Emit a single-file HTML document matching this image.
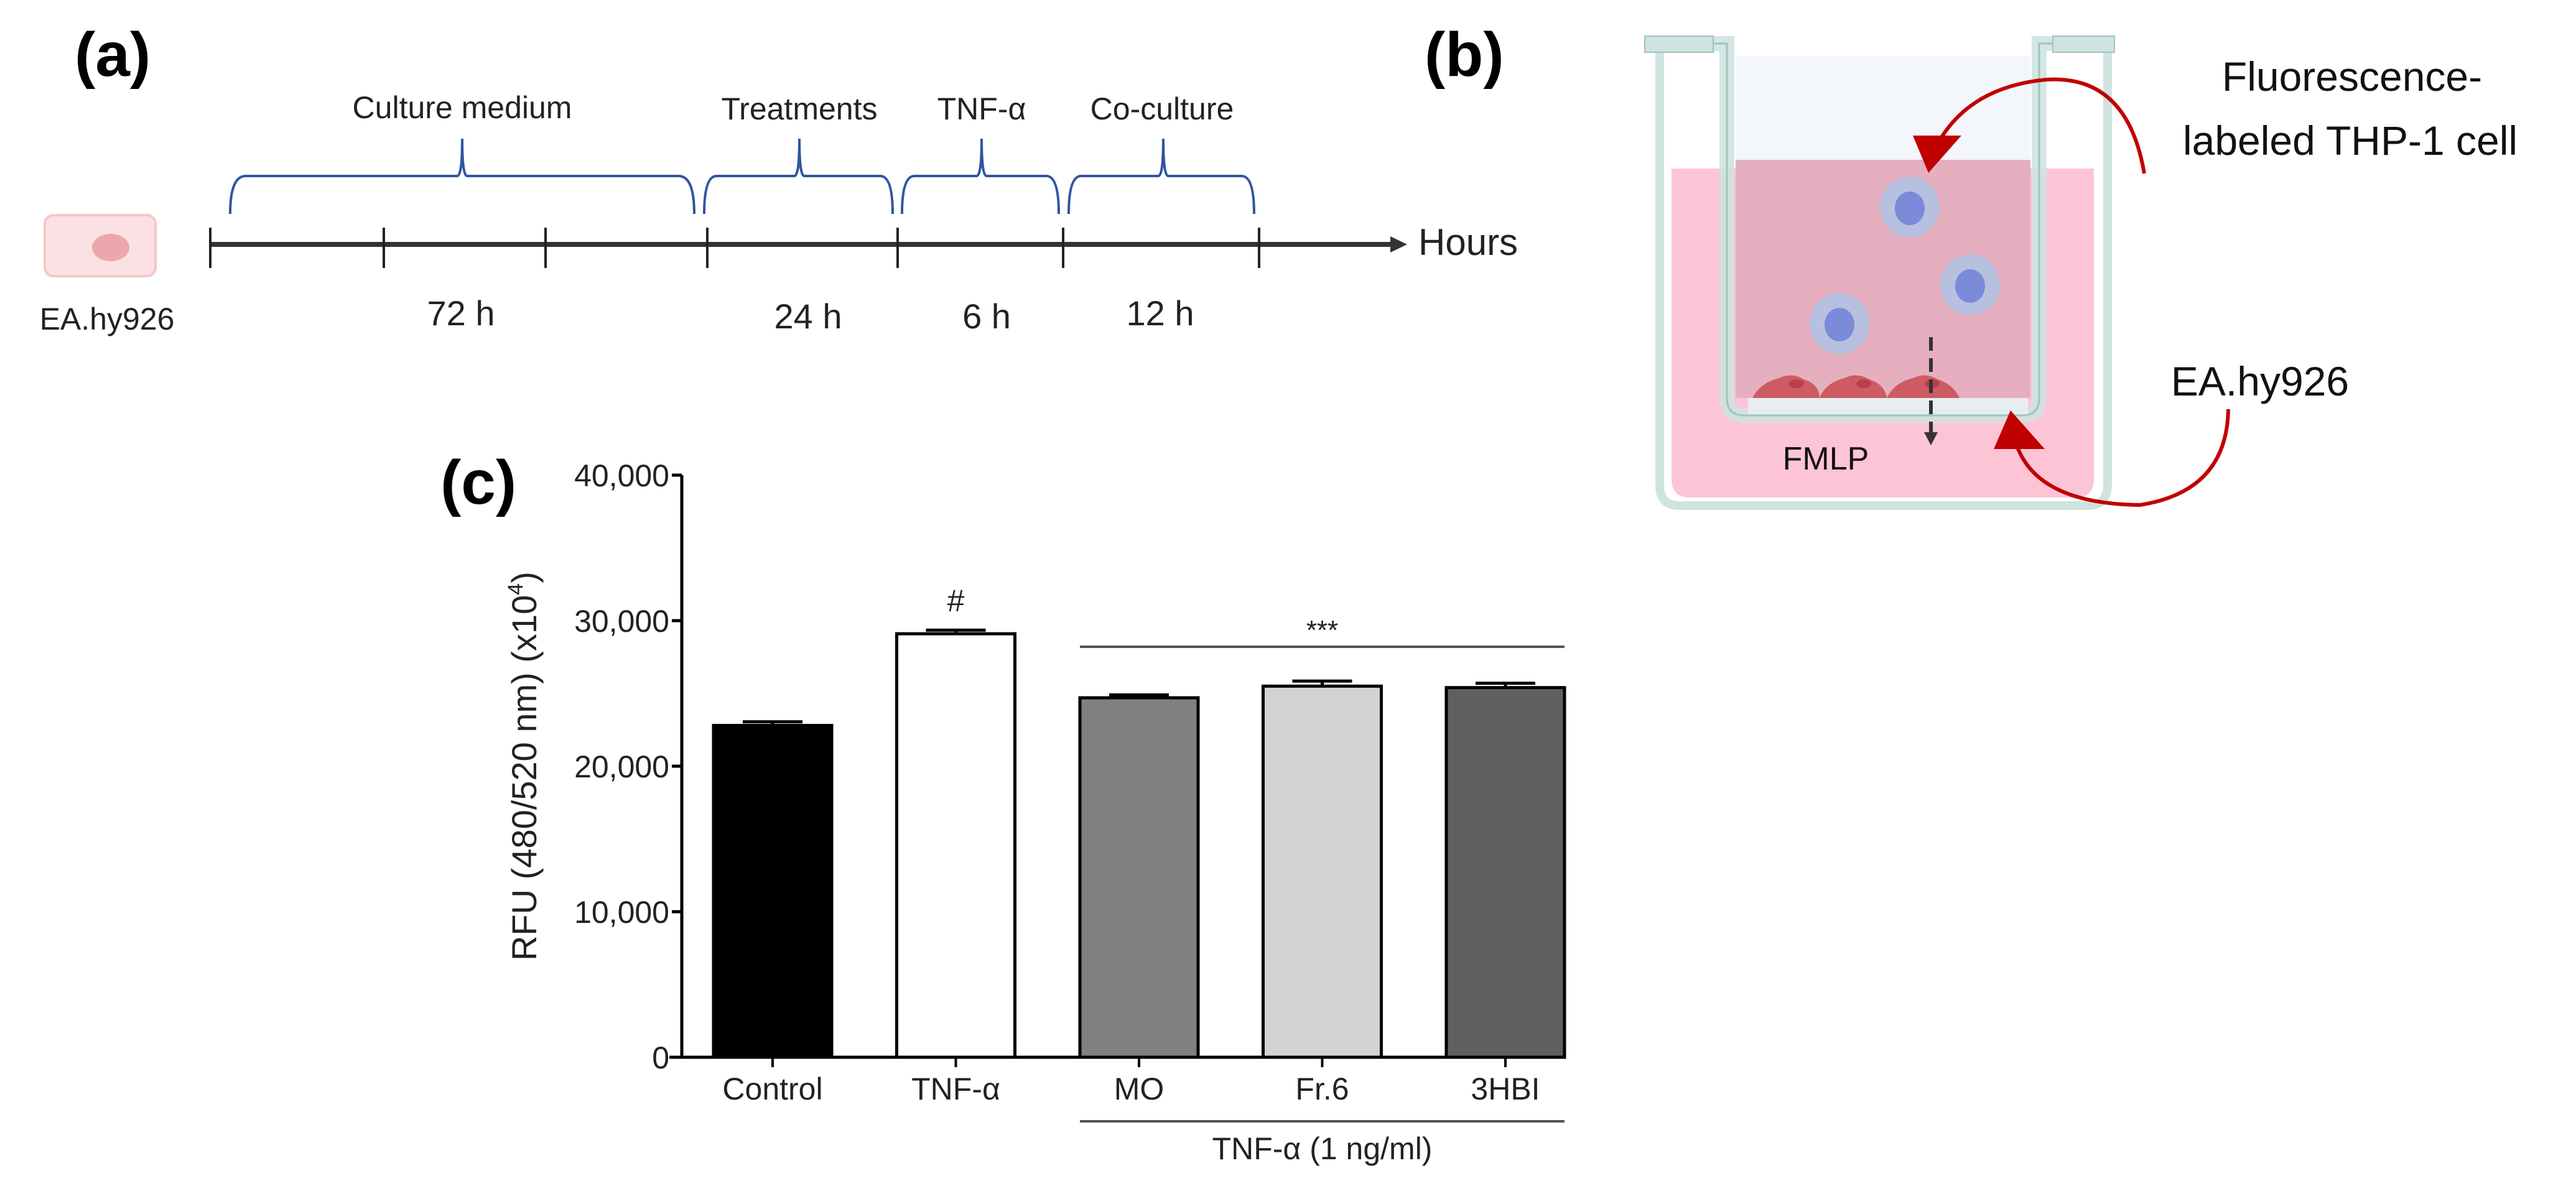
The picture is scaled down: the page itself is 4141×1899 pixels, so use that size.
<!DOCTYPE html>
<html><head><meta charset="utf-8"><style>
html,body{margin:0;padding:0;background:#fff;}
svg{display:block;}
text{font-family:"Liberation Sans",sans-serif;}
</style></head><body>
<svg id="root" width="4141" height="1899" viewBox="0 0 4141 1899" xmlns="http://www.w3.org/2000/svg">
<rect width="4141" height="1899" fill="#fff"/>
<!-- Panel a -->
<g>
<text x="120" y="122" font-size="100" font-weight="bold">(a)</text>
<rect x="72" y="346" width="178" height="98" rx="14" fill="#fbe1e3" stroke="#f4c6ca" stroke-width="4"/>
<ellipse cx="178" cy="398" rx="30" ry="22" fill="#eea6ad"/>
<text x="172" y="530" font-size="50" text-anchor="middle" fill="#222">EA.hy926</text>
<line x1="338" y1="393" x2="2240" y2="393" stroke="#333" stroke-width="8"/>
<polygon points="2235,380 2262,393 2235,406" fill="#333"/>
<g stroke="#222" stroke-width="4">
<line x1="338" y1="366" x2="338" y2="431"/><line x1="617" y1="366" x2="617" y2="431"/><line x1="877" y1="366" x2="877" y2="431"/><line x1="1137" y1="366" x2="1137" y2="431"/><line x1="1443" y1="366" x2="1443" y2="431"/><line x1="1709" y1="366" x2="1709" y2="431"/><line x1="2024" y1="366" x2="2024" y2="431"/>
</g>
<text x="2280" y="410" font-size="60" fill="#222">Hours</text>
<g fill="none" stroke="#2f55a0" stroke-width="4">
<path d="M370,344 Q370,283 395,283 L735,283 Q743,283 743,223 Q743,283 751,283 L1091,283 Q1116,283 1116,344"/>
<path d="M1132,344 Q1132,283 1152,283 L1277,283 Q1285,283 1285,223 Q1285,283 1293,283 L1415,283 Q1435,283 1435,344"/>
<path d="M1450,344 Q1450,283 1470,283 L1570,283 Q1578,283 1578,223 Q1578,283 1586,283 L1682,283 Q1702,283 1702,344"/>
<path d="M1718,344 Q1718,283 1738,283 L1862,283 Q1870,283 1870,223 Q1870,283 1878,283 L1996,283 Q2016,283 2016,344"/>
</g>
<g font-size="50" fill="#222" text-anchor="middle">
<text x="743" y="190">Culture medium</text><text x="1285" y="192">Treatments</text><text x="1578" y="192">TNF-α</text><text x="1868" y="192">Co-culture</text>
</g>
<g font-size="56" fill="#222" text-anchor="middle">
<text x="741" y="523">72 h</text><text x="1299" y="528">24 h</text><text x="1586" y="528">6 h</text><text x="1865" y="523">12 h</text>
</g>
</g>
<!-- Panel b -->
<g>
<text x="2290" y="122" font-size="100" font-weight="bold">(b)</text>
<path d="M2687,271 L3366,271 L3366,770 Q3366,800 3336,800 L2717,800 Q2687,800 2687,770 Z" fill="#fdc4d6"/>
<path d="M2668,70 L2668,780 Q2668,813 2700,813 L3355,813 Q3388,813 3388,780 L3388,70" fill="none" stroke="#cfe3e0" stroke-width="14"/>
<rect x="2790" y="90" width="474" height="168" fill="#f3f6fb"/>
<rect x="2790" y="257" width="474" height="383" fill="#e6afc0"/>
<path d="M2700,70 L2776,70 L2776,640 Q2776,668 2804,668 L3250,668 Q3278,668 3278,640 L3278,70 L3355,70" fill="none" stroke="#cfe3e0" stroke-width="24" stroke-opacity="0.9"/>
<path d="M2700,70 L2776,70 L2776,640 Q2776,668 2804,668 L3250,668 Q3278,668 3278,640 L3278,70 L3355,70" fill="none" stroke="#9fc4be" stroke-width="3"/>
<rect x="2644" y="58" width="110" height="26" fill="#cfe3e0" stroke="#9fc4be" stroke-width="2"/>
<rect x="3300" y="58" width="99" height="26" fill="#cfe3e0" stroke="#9fc4be" stroke-width="2"/>
<rect x="2810" y="640" width="450" height="26" fill="#e8eef0"/>
<g fill="#cd5c62">
<path d="M2817,640 Q2830,615 2860,608 Q2880,598 2900,610 Q2925,618 2925,640 Z"/>
<path d="M2925,640 Q2935,615 2965,608 Q2985,598 3005,610 Q3030,618 3033,640 Z"/>
<path d="M3033,640 Q3045,615 3075,608 Q3095,598 3115,610 Q3140,618 3150,640 Z"/>
<ellipse cx="2888" cy="617" rx="12" ry="7" fill="#b8404a"/><ellipse cx="2996" cy="617" rx="12" ry="7" fill="#b8404a"/><ellipse cx="3106" cy="617" rx="12" ry="7" fill="#b8404a"/>
</g>
<g>
<ellipse cx="3070" cy="333" rx="48" ry="49" fill="#b7c0df"/><ellipse cx="3070" cy="335" rx="24" ry="27" fill="#7b8ad9"/>
<ellipse cx="3167" cy="458" rx="48" ry="49" fill="#b7c0df"/><ellipse cx="3167" cy="460" rx="24" ry="27" fill="#7b8ad9"/>
<ellipse cx="2957" cy="520" rx="48" ry="49" fill="#b7c0df"/><ellipse cx="2957" cy="522" rx="24" ry="27" fill="#7b8ad9"/>
</g>
<line x1="3104" y1="542" x2="3104" y2="700" stroke="#333" stroke-width="6" stroke-dasharray="22,12"/>
<polygon points="3093,695 3115,695 3104,716" fill="#333"/>
<text x="2935" y="755" font-size="52" text-anchor="middle" fill="#111">FMLP</text>
<path d="M3447,279 Q3420,120 3290,128 Q3160,140 3110,240" fill="none" stroke="#c00000" stroke-width="6"/>
<polygon points="3075,218 3153,218 3100,278" fill="#c00000"/>
<path d="M3582,658 Q3580,790 3440,812 Q3270,810 3240,710" fill="none" stroke="#c00000" stroke-width="6"/>
<polygon points="3205,722 3287,722 3232,660" fill="#c00000"/>
<text x="3781" y="146" font-size="66" text-anchor="middle" fill="#111">Fluorescence-</text>
<text x="3778" y="249" font-size="66" text-anchor="middle" fill="#111">labeled THP-1 cell</text>
<text x="3633" y="636" font-size="66" text-anchor="middle" fill="#111">EA.hy926</text>
</g>
<!-- Panel c -->
<g id="chart">
<text x="708" y="810" font-size="100" font-weight="bold">(c)</text>
</g>
</svg>
<script>
const categories = ["Control", "TNF-α", "MO", "Fr.6", "3HBI"];
const values = [22800, 29100, 24700, 25500, 25400];
const errors = [250, 250, 200, 350, 300];
const yTicks = [0, 10000, 20000, 30000, 40000];
const yTickLabels = ["0", "10,000", "20,000", "30,000", "40,000"];
const barColors = ["#000000", "#ffffff", "#808080", "#d3d3d3", "#606060"];

const NS = "http://www.w3.org/2000/svg";
const chart = document.getElementById("chart");
const y0 = 1700, yTop = 764, yMax = 40000;
const axisX = 1096, plotRight = 2516;
function yScale(v){ return y0 - (v / yMax) * (y0 - yTop); }
const barW = 190;
const firstOffset = 146, step = 294.5;
function xCenter(i){ return axisX + firstOffset + step * i; }
function mk(tag, attrs){ const e = document.createElementNS(NS, tag); for (const k in attrs) e.setAttribute(k, attrs[k]); chart.appendChild(e); return e; }

const yAxis = mk("line", {x1: axisX, y1: yTop, x2: axisX, y2: y0 + 2, stroke: "#000", "stroke-width": 5});


const xAxis = mk("line", {x1: axisX - 20, y1: y0, x2: plotRight, y2: y0, stroke: "#000", "stroke-width": 5});



yTicks.forEach((t, i) => {
  const yy = yScale(t);
  const tk = mk("line", {x1: axisX - 16, y1: yy, x2: axisX, y2: yy, stroke: "#000", "stroke-width": 5});
  
  
  const lb = mk("text", {x: axisX - 20, y: yy + 18, "font-size": 50, "text-anchor": "end", fill: "#222"});
  lb.textContent = yTickLabels[i];
  
  
});

const yt = mk("text", {x: 0, y: 0, "font-size": 56, "text-anchor": "middle", fill: "#222", transform: "translate(862,1232) rotate(-90)"});
yt.innerHTML = 'RFU (480/520 nm) (x10<tspan font-size="34" dy="-22">4</tspan><tspan dy="22">)</tspan>';



categories.forEach((c, i) => {
  const cx = xCenter(i);
  const top = yScale(values[i]);
  const bar = mk("rect", {x: cx - barW/2, y: top, width: barW, height: y0 - top, fill: barColors[i], stroke: "#000", "stroke-width": 5});
  
  
  const et = yScale(values[i] + errors[i]);
  const eb = mk("path", {d: `M${cx},${top} L${cx},${et} M${cx-48},${et} L${cx+48},${et}`, stroke: "#000", "stroke-width": 5, fill: "none"});
  
  
  const tk = mk("line", {x1: cx, y1: y0, x2: cx, y2: y0 + 16, stroke: "#000", "stroke-width": 4});
  
  
  const lb = mk("text", {x: cx, y: 1768, "font-size": 50, "text-anchor": "middle", fill: "#222"});
  lb.textContent = c;
  
  
});

const hash = mk("text", {x: xCenter(1), y: yScale(values[1] + errors[1]) - 30, "font-size": 50, "text-anchor": "middle", fill: "#222"});
hash.textContent = "#";



const sigLine = mk("line", {x1: xCenter(2) - barW/2, y1: 1040, x2: xCenter(4) + barW/2, y2: 1040, stroke: "#555", "stroke-width": 4});


const stars = mk("text", {x: xCenter(3), y: 1028, "font-size": 44, "text-anchor": "middle", fill: "#222"});
stars.textContent = "***";



const grpLine = mk("line", {x1: xCenter(2) - barW/2, y1: 1803, x2: xCenter(4) + barW/2, y2: 1803, stroke: "#555", "stroke-width": 4});


const grp = mk("text", {x: xCenter(3), y: 1864, "font-size": 50, "text-anchor": "middle", fill: "#222"});
grp.textContent = "TNF-α (1 ng/ml)";


</script>
</body></html>
